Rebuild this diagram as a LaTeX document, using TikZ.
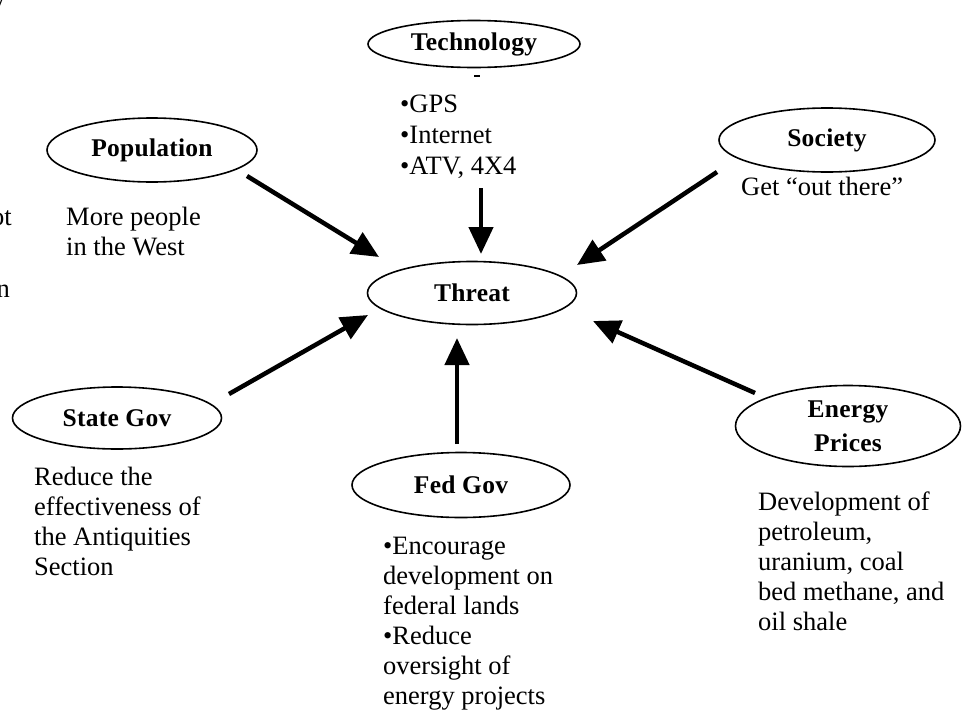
\documentclass[tikz,border=0pt]{standalone}
\usepackage{fontspec}
\setmainfont{Liberation Serif}
\usetikzlibrary{shapes.geometric,arrows.meta}
\begin{document}
\begin{tikzpicture}[x=1pt,y=-1pt,
  oval/.style={draw,ellipse,line width=1.6pt,inner sep=0pt,font=\fontsize{25.5}{34}\selectfont\bfseries\addfontfeatures{LetterSpace=1},align=center},
  note/.style={anchor=north west,inner sep=0pt,align=left,font=\fontsize{26.5}{30}\selectfont},
  frag/.style={anchor=base east,inner sep=0pt,font=\fontsize{26.5}{30}\selectfont},
  bigarrow/.style={line width=4.5pt,-{Triangle[width=24pt,length=27pt]}}]
\useasboundingbox (0,0) rectangle (964,726);
% ellipses
\node[oval,minimum width=212pt,minimum height=47pt] (tech) at (474,44) {Technology};
\node[oval,minimum width=210pt,minimum height=64pt] (pop) at (152,150) {Population};
\node[oval,minimum width=216pt,minimum height=64pt] (soc) at (827,140) {Society};
\node[oval,minimum width=209pt,minimum height=63pt] (threat) at (472,293) {Threat};
\node[oval,minimum width=209pt,minimum height=62pt] (state) at (117,418) {State Gov};
\node[oval,minimum width=218pt,minimum height=65pt] (fed) at (461,485) {Fed Gov};
\node[oval,minimum width=225pt,minimum height=81pt] (energy) at (848,426) {Energy\\Prices};
% notes
\node[note] (popnote) at (66,207) {More people\\in the West};
\node[note] (technote) at (400,95) {•GPS\\[1pt]•Internet\\[1pt]•ATV, 4X4};
\node[note] (socnote) at (741,177) {Get “out there”};
\node[note] (statenote) at (34,467) {Reduce the\\effectiveness of\\the Antiquities\\Section};
\node[note] (fednote) at (383,537) {•Encourage\\development on\\federal lands\\•Reduce\\oversight of\\energy projects};
\node[note] (energynote) at (758,492) {Development of\\petroleum,\\uranium, coal\\bed methane, and\\oil shale};
% clipped fragments at left edge
\node[frag] (fragy) at (4,11) {y};
\node[frag] (fragot) at (12,225) {not};
\node[frag] (fragn) at (10,297) {n};
% tiny dash under Technology
\coordinate (dashA) at (474,76);
\coordinate (dashB) at (480,76);
\draw[line width=1.8pt] (dashA) -- (dashB);
% arrow ends
\coordinate (popS) at (247,176);   \coordinate (popE) at (379,257);
\coordinate (techS) at (481,188);  \coordinate (techE) at (481,254);
\coordinate (socS) at (717,172);   \coordinate (socE) at (577,265);
\coordinate (stateS) at (229,394); \coordinate (stateE) at (368,315);
\coordinate (fedS) at (457,444);   \coordinate (fedE) at (457,338);
\coordinate (enS) at (755,393);    \coordinate (enE) at (593,321);
\draw[bigarrow] (popS) -- (popE);
\draw[bigarrow] (techS) -- (techE);
\draw[bigarrow] (socS) -- (socE);
\draw[bigarrow] (stateS) -- (stateE);
\draw[bigarrow] (fedS) -- (fedE);
\draw[bigarrow] (enS) -- (enE);
\end{tikzpicture}
\end{document}
